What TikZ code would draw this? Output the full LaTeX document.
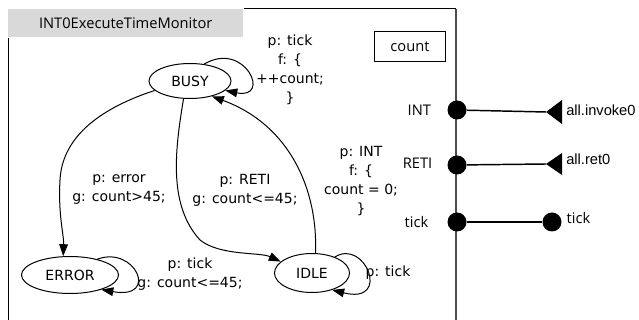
\documentclass[tikz,border=0pt]{standalone}
\usepackage{fontspec}
\setmainfont{DejaVu Sans}
\newfontfamily\uifont{Open Sans}
\newfontfamily\arialfont{Liberation Sans}
\usepackage{tikz}
\usetikzlibrary{shapes.geometric, positioning}
\usetikzlibrary{arrows.meta}
\tikzset{>={Triangle[width=6.5pt,length=9pt]}}

\begin{document}
\begin{tikzpicture}[x=0.75pt, y=-0.75pt, statenode/.style={ellipse, draw=black, line width=0.75pt, inner sep=0pt, font=\fontsize{10.5}{12}\selectfont}, edgetext/.style={align=center, inner sep=0pt, font=\fontsize{10.5}{14.25}\selectfont}, uitext/.style={inner sep=0pt, font=\uifont\fontsize{11}{13}\selectfont}, porttext/.style={inner sep=0pt, font=\arialfont\fontsize{11}{13}\selectfont}, port/.style={circle, fill=black, minimum size=14.25pt, inner sep=0pt}, edge/.style={->, line width=0.75pt}]

    \useasboundingbox (0,0) rectangle (639,320);

    %Frame
    \node[uitext, fill=black!15, minimum width=176.25pt, minimum height=21pt, anchor=north west](title) at (8,9){INT0ExecuteTimeMonitor};
    \coordinate (frame_ne) at (456,9);
    \coordinate (frame_se) at (456,320);
    \coordinate (frame_sw) at (8.5,320);
    \draw[line width=0.75pt] (title.north east) -- (frame_ne);
    \draw[line width=0.75pt] ([xshift=0.375pt]title.south west) -- (frame_sw);
    \draw[line width=1.5pt, black!70] (frame_ne) -- (frame_se);

    %Nodes
    \node[statenode, minimum width=61.5pt, minimum height=26.25pt](busy) at (190,81){BUSY};
    \node[statenode, minimum width=72.75pt, minimum height=27.75pt](error) at (70,275){ERROR};
    \node[statenode, minimum width=56.25pt, minimum height=29.25pt](idle) at (312,273){IDLE};
    \node[uitext, draw=black, line width=0.75pt, minimum width=53.25pt, minimum height=22.5pt](count) at (410,47){count};

    %Ports
    \node[port](int) at (457,110){};
    \node[port](reti) at (457,165){};
    \node[port](tick) at (457,222){};
    \node[uitext](int_text)[left=12pt of int]{INT};
    \node[uitext](reti_text)[left=11pt of reti, yshift=1.5pt]{RETI};
    \node[uitext](tick_text)[left=14pt of tick]{tick};
    \coordinate (invoke) at (546,112);
    \coordinate (ret) at (546,164);
    \node[port](tick_out) at (552,222){};
    \node[porttext, anchor=west](invoke_text) at (566,110){all.invoke0};
    \node[porttext, anchor=west](ret_text) at (566,159){all.ret0};
    \node[uitext](tick_out_text)[right=3.5pt of tick_out, yshift=3pt]{tick};

    %Labels
    \node[edgetext](busy_loop_text) at (290,70){p: tick\\f: \{\\++count;\\\}};
    \node[edgetext](error_text) at (119,190){p: error\\g: count>45;};
    \node[edgetext](reti_edge_text) at (245,190){p: RETI\\g: count<=45;};
    \node[edgetext](int_edge_text) at (361,181){p: INT\\f: \{\\count = 0;\\\}};
    \node[edgetext](error_loop_text) at (190,274){p: tick\\g: count<=45;};
    \node[edgetext](idle_loop_text) at (388,273){p: tick};

    %Lines
    \draw[edge] (busy.195) .. controls (95,110) and (62,140) .. (60,180) .. controls (58,215) and (64,235) .. (error.110);
    \draw[edge] (busy.250) .. controls (175,150) and (168,205) .. (200,240) .. controls (220,256) and (260,252) .. (idle.160);
    \draw[edge] (idle.80) .. controls (318,190) and (290,125) .. (busy.-35);
    \draw[edge] (busy.50) .. controls (245,40) and (272,100) .. (busy.-15);
    \draw[edge] (error.30) .. controls (135,245) and (160,300) .. (error.-25);
    \draw[edge] (idle.35) .. controls (365,238) and (392,305) .. (idle.-40);

    \draw[line width=1.1pt] (int) -- (invoke);
    \draw[line width=1.1pt] (reti) -- (ret);
    \draw[line width=1.1pt] (tick) -- (tick_out);
    \fill (invoke) -- ++(16,-12) -- ++(0,24) -- cycle;
    \fill (ret) -- ++(16,-11) -- ++(0,22) -- cycle;

\end{tikzpicture}
\end{document}
